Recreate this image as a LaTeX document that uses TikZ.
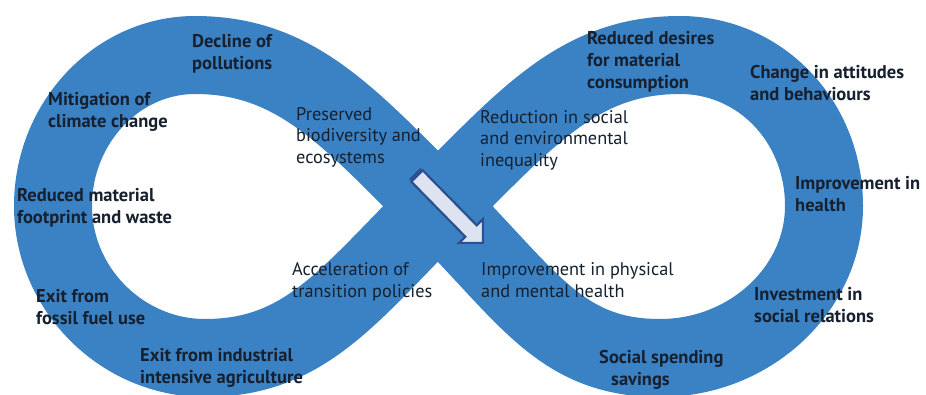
\documentclass[tikz,border=0pt]{standalone}
\usepackage{fontspec}
\setmainfont{PT Sans}
\definecolor{bandblue}{RGB}{59,130,197}
\definecolor{txt}{RGB}{22,32,46}
\definecolor{arrowfill}{RGB}{222,227,240}
\definecolor{arrowline}{RGB}{44,80,146}
\begin{document}
\begin{tikzpicture}[x=1pt,y=-1pt,
  band/.style={draw=bandblue,line width=78pt},
  dinlab/.style={anchor=base west,inner sep=0pt,align=left,text=txt,font=\bfseries\fontsize{18.5}{22}\selectfont},
  lightlab/.style={anchor=base west,inner sep=0pt,align=left,text=txt,font=\fontsize{18.3}{21.5}\selectfont}]
\useasboundingbox (0,0) rectangle (926,394);
\fill[white] (0,0) rectangle (926,394);
\coordinate (C) at (438,206);
\coordinate (R) at (824,206);
\coordinate (BR) at (660,358);
\coordinate (TL) at (195,55);
\coordinate (L) at (53,206);
\coordinate (BL) at (205,358);
\coordinate (TR) at (680,55);
\draw[band] (R) .. controls (824,289) and (750,358) .. (BR)
 .. controls (560,358) and (528,296) .. (C)
 .. controls (348,116) and (295,55) .. (TL)
 .. controls (117,55) and (53,123) .. (L)
 .. controls (53,289) and (122,358) .. (BL)
 .. controls (305,358) and (348,296) .. (C)
 .. controls (528,116) and (580,55) .. (TR)
 .. controls (760,55) and (824,121) .. cycle;
% arrow
\filldraw[fill=arrowfill,draw=arrowline,line width=2.2pt,line join=miter]
 (411.3,181.7) -- (465.3,236.7) -- (459,243) -- (483,243) -- (483,219) -- (476.7,225.3) -- (422.7,170.3) -- cycle;
\draw[arrowline,line width=4pt] (410.5,180.5) -- (421.5,169.5);
% labels (anchored at the baseline of the last line)
\node[dinlab] (decline) at (192,69) {Decline of\\pollutions};
\node[dinlab] (mitig) at (48,127) {Mitigation of\\climate change};
\node[lightlab] (pres) at (296,163) {Preserved\\biodiversity and\\ecosystems};
\node[dinlab] (redmat) at (17,223) {Reduced material\\footprint and waste};
\node[dinlab] (exitf) at (36,324) {Exit from\\fossil fuel use};
\node[dinlab] (exitind) at (140,383) {Exit from industrial\\intensive agriculture};
\node[lightlab] (accel) at (292,297) {Acceleration of\\transition policies};
\node[dinlab] (desires) at (587,88) {Reduced desires\\for material\\consumption};
\node[dinlab] (attit) at (750,100) {Change in attitudes\\and behaviours};
\node[lightlab] (ineq) at (480,166) {Reduction in social\\and environmental\\inequality};
\node[dinlab] (health) at (795,211) {Improvement in\\health};
\node[lightlab] (phys) at (481,297) {Improvement in physical\\and mental health};
\node[dinlab] (invest) at (754,322) {Investment in\\social relations};
\node[dinlab] (social) at (599,385) {Social spending\\\hspace*{12pt}savings};
\end{tikzpicture}
\end{document}
